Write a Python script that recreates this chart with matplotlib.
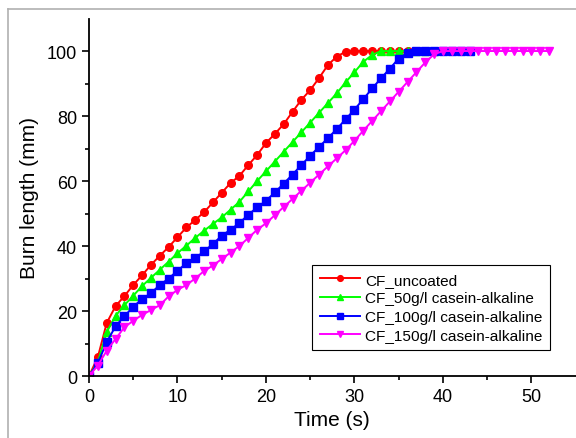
import matplotlib
matplotlib.use("Agg")
import matplotlib.pyplot as plt
from matplotlib.lines import Line2D
import numpy as np

plt.rcParams['font.family'] = ['Liberation Sans', 'DejaVu Sans']

# burn length (mm), one reading per second starting at t = 0
uncoated = [0, 5.8, 16.3, 21.5, 24.6, 28, 31, 34.2, 37, 39.7, 42.7, 45.7, 48, 50.4,
            53.4, 56.4, 59.4, 61.6, 64.9, 68, 71.7, 74.5, 77.5, 81.3, 85, 88, 91.7,
            95.7, 98.3, 99.8, 100, 100, 100, 100, 100, 100, 100]
casein_50 = [0, 4.3, 13.5, 18.5, 21.8, 24.7, 27.7, 30.2, 32.7, 35.2, 37.8, 40.1, 42.5,
             44.7, 46.8, 48.8, 51.2, 53.6, 56.8, 60, 63, 66, 69, 72, 75, 78, 81, 84,
             87, 90.4, 93.5, 96.7, 98.8, 100, 100, 100, 100, 100, 100, 100]
casein_100 = [0, 4, 10.4, 15.3, 18.4, 21.3, 23.7, 25.5, 28, 30, 32.4, 34.7, 36.2, 38.4,
              40.6, 43.2, 45, 47.1, 49.6, 51.9, 53.9, 56.5, 59.2, 62, 64.9, 67.8, 70.5,
              73.2, 76, 79, 82, 85.2, 88.5, 91.6, 94.6, 97.7, 99.4, 100, 100, 100, 100,
              100, 100, 100]
casein_150 = [0, 3.2, 7.8, 11.4, 15, 17, 18.8, 20.3, 21.8, 24.5, 26.5, 28, 30, 32.3,
              34, 36, 38, 40, 42.5, 45, 47, 49.5, 52, 54.5, 57, 59.5, 62, 64.5, 67,
              69.5, 72.4, 75.5, 78.5, 81.5, 84.5, 87.5, 90.5, 93.5, 96.5, 99, 100, 100,
              100, 100, 100, 100, 100, 100, 100, 100, 100, 100, 100]

series = [
    ("CF_uncoated", uncoated, "#ff0000", "o"),
    ("CF_50g/l casein-alkaline", casein_50, "#00ff00", "^"),
    ("CF_100g/l casein-alkaline", casein_100, "#0000ff", "s"),
    ("CF_150g/l casein-alkaline", casein_150, "#ff00ff", "v"),
]

fig = plt.figure(figsize=(5.76, 4.39), dpi=100)
ax = fig.add_axes([0.1545, 0.1412, 0.845, 0.8143])

for label, vals, color, marker in series:
    t = np.arange(len(vals))
    ax.plot(t, vals, color=color, marker=marker, markersize=5.5, linewidth=1.4,
            label=label)

ax.set_xlim(0, 55)
ax.set_ylim(0, 110)
ax.set_xticks([0, 10, 20, 30, 40, 50])
ax.set_xticks(np.arange(5, 55, 10), minor=True)
ax.set_yticks([0, 20, 40, 60, 80, 100])
ax.set_yticks(np.arange(10, 110, 20), minor=True)
ax.tick_params(which="major", direction="out", length=5, width=1.2, labelsize=13)
ax.tick_params(which="minor", direction="out", length=3, width=1.2)
ax.spines["top"].set_visible(False)
ax.spines["right"].set_visible(False)
ax.spines["left"].set_linewidth(1.3)
ax.spines["bottom"].set_linewidth(1.3)

ax.set_xlabel("Time (s)", fontsize=15, labelpad=4)
ax.set_ylabel("Burn length (mm)", fontsize=15, labelpad=6)

leg = ax.legend(loc="lower right", bbox_to_anchor=(0.963, 0.05), fontsize=11.1,
                fancybox=False, framealpha=1, edgecolor="black",
                handlelength=2.6, handletextpad=0.3, borderpad=0.5,
                labelspacing=0.3, markerscale=0.75)
leg.get_frame().set_linewidth(0.8)

# grey frame around the figure (top and left edges)
fig.add_artist(Line2D([8 / 576, 1], [1 - 10 / 439, 1 - 10 / 439],
                      transform=fig.transFigure, color="#b0b0b0", linewidth=1.2))
fig.add_artist(Line2D([8 / 576, 8 / 576], [0, 1 - 10 / 439],
                      transform=fig.transFigure, color="#b0b0b0", linewidth=1.2))

fig.savefig("out.png", dpi=100)
